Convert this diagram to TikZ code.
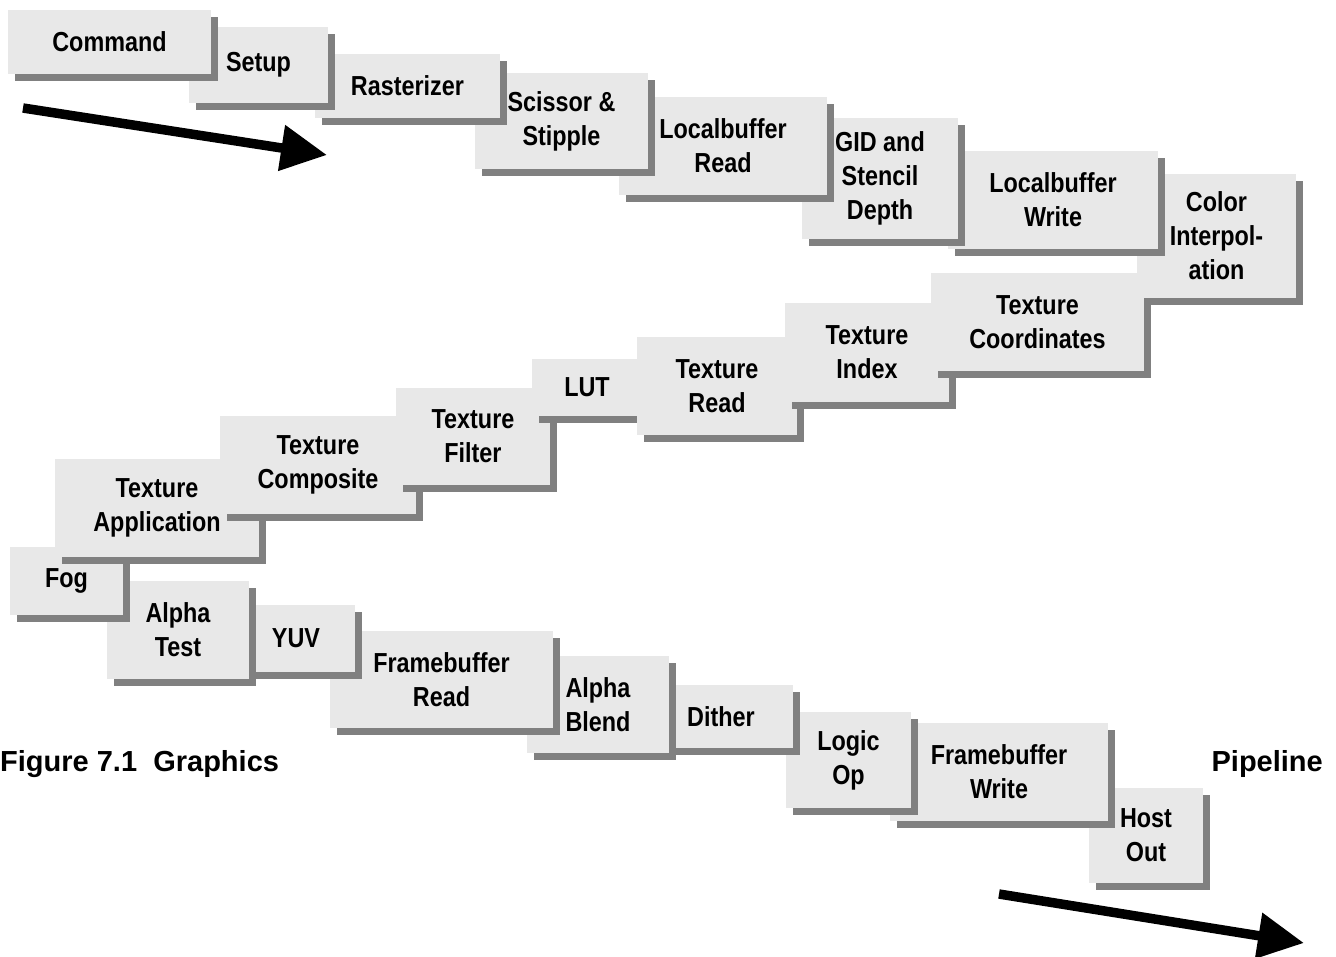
\documentclass[tikz,border=0pt]{standalone}
\usepackage{fontspec}
\setmainfont{Liberation Sans}
\newfontfamily\stagefont[FakeStretch=0.85]{Liberation Sans}
\usetikzlibrary{shadows,arrows.meta,positioning}
\usepackage{xcolor}
\definecolor{stagefill}{RGB}{232,232,232}
\definecolor{stageshadow}{RGB}{128,128,128}

\begin{document}
\begin{tikzpicture}[x=1pt, y=-1pt]
    \tikzstyle{stage} = [rectangle, fill=stagefill, inner sep=0pt, align=center,
        font=\stagefont\bfseries\fontsize{27.5}{34}\selectfont,
        drop shadow={shadow xshift=7pt, shadow yshift=-7pt, fill=stageshadow, opacity=1}]
    \tikzstyle{flow} = [line width=9.5pt, -{Triangle[length=46pt, width=44pt]}]
    \tikzstyle{caption} = [inner sep=0pt, font=\bfseries\fontsize{29}{34}\selectfont]

    \useasboundingbox (0,0) rectangle (1336,956);

    % Stages, last one first
    \node[stage, minimum width=114pt, minimum height=95pt] (hostout) at (1146,835.5) {Host\\Out};
    \node[stage, minimum width=218pt, minimum height=98pt] (fbwrite) at (999,772) {Framebuffer\\Write};
    \node[stage, minimum width=125pt, minimum height=96pt] (logicop) at (848.5,760) {Logic\\Op};
    \node[stage, minimum width=144pt, minimum height=63pt] (dither) at (721,716.5) {Dither};
    \node[stage, minimum width=142pt, minimum height=97pt] (alphablend) at (598,704.5) {Alpha\\Blend};
    \node[stage, minimum width=223pt, minimum height=97pt] (fbread) at (441.5,679.5) {Framebuffer\\Read};
    \node[stage, minimum width=118pt, minimum height=67pt] (yuv) at (296,638.5) {YUV};
    \node[stage, minimum width=142pt, minimum height=98pt] (alphatest) at (178,630) {Alpha\\Test};

    \node[stage, minimum width=113pt, minimum height=68pt] (fog) at (66.5,581) {Fog};
    \node[stage, minimum width=204pt, minimum height=98pt] (texapp) at (157,508) {Texture\\Application};
    \node[stage, minimum width=196pt, minimum height=98pt] (texcomp) at (318,465) {Texture\\Composite};
    \node[stage, minimum width=154pt, minimum height=97pt] (texfilter) at (473,436.5) {Texture\\Filter};
    \node[stage, minimum width=110pt, minimum height=57pt] (lut) at (587,387.5) {LUT};
    \node[stage, minimum width=160pt, minimum height=98pt] (texread) at (717,386) {Texture\\Read};
    \node[stage, minimum width=164pt, minimum height=99pt] (texindex) at (867,352.5) {Texture\\Index};
    \node[stage, minimum width=213pt, minimum height=98pt] (texcoord) at (1037.5,322) {Texture\\Coordinates};

    \node[stage, minimum width=159pt, minimum height=124pt] (colorinterp) at (1216.5,236) {Color\\Interpol-\\ation};
    \node[stage, minimum width=210pt, minimum height=98pt] (lbwrite) at (1053,200) {Localbuffer\\Write};
    \node[stage, minimum width=156pt, minimum height=121pt] (gid) at (880,178.5) {GID and\\Stencil\\Depth};
    \node[stage, minimum width=208pt, minimum height=98pt] (lbread) at (723,146) {Localbuffer\\Read};
    \node[stage, minimum width=173pt, minimum height=96pt] (scissor) at (561.5,121) {Scissor \&\\Stipple};
    \node[stage, minimum width=185pt, minimum height=64pt] (rasterizer) at (407.5,86) {Rasterizer};
    \node[stage, minimum width=139pt, minimum height=76pt] (setup) at (258.5,65) {Setup};
    \node[stage, minimum width=203pt, minimum height=64pt] (command) at (109.5,42) {Command};

    % Caption
    \node[caption, anchor=base west] (figtitle) at (0,771) {Figure 7.1\ \ Graphics};
    \node[caption, anchor=base east] (figtail) at (1323,771) {Pipeline};

    % Direction arrows
    \coordinate (inTail) at (23,108);
    \coordinate (inTip) at (327,155);
    \coordinate (outTail) at (999,894);
    \coordinate (outTip) at (1304,943);
    \draw[flow] (inTail) -- (inTip);
    \draw[flow] (outTail) -- (outTip);
\end{tikzpicture}
\end{document}
